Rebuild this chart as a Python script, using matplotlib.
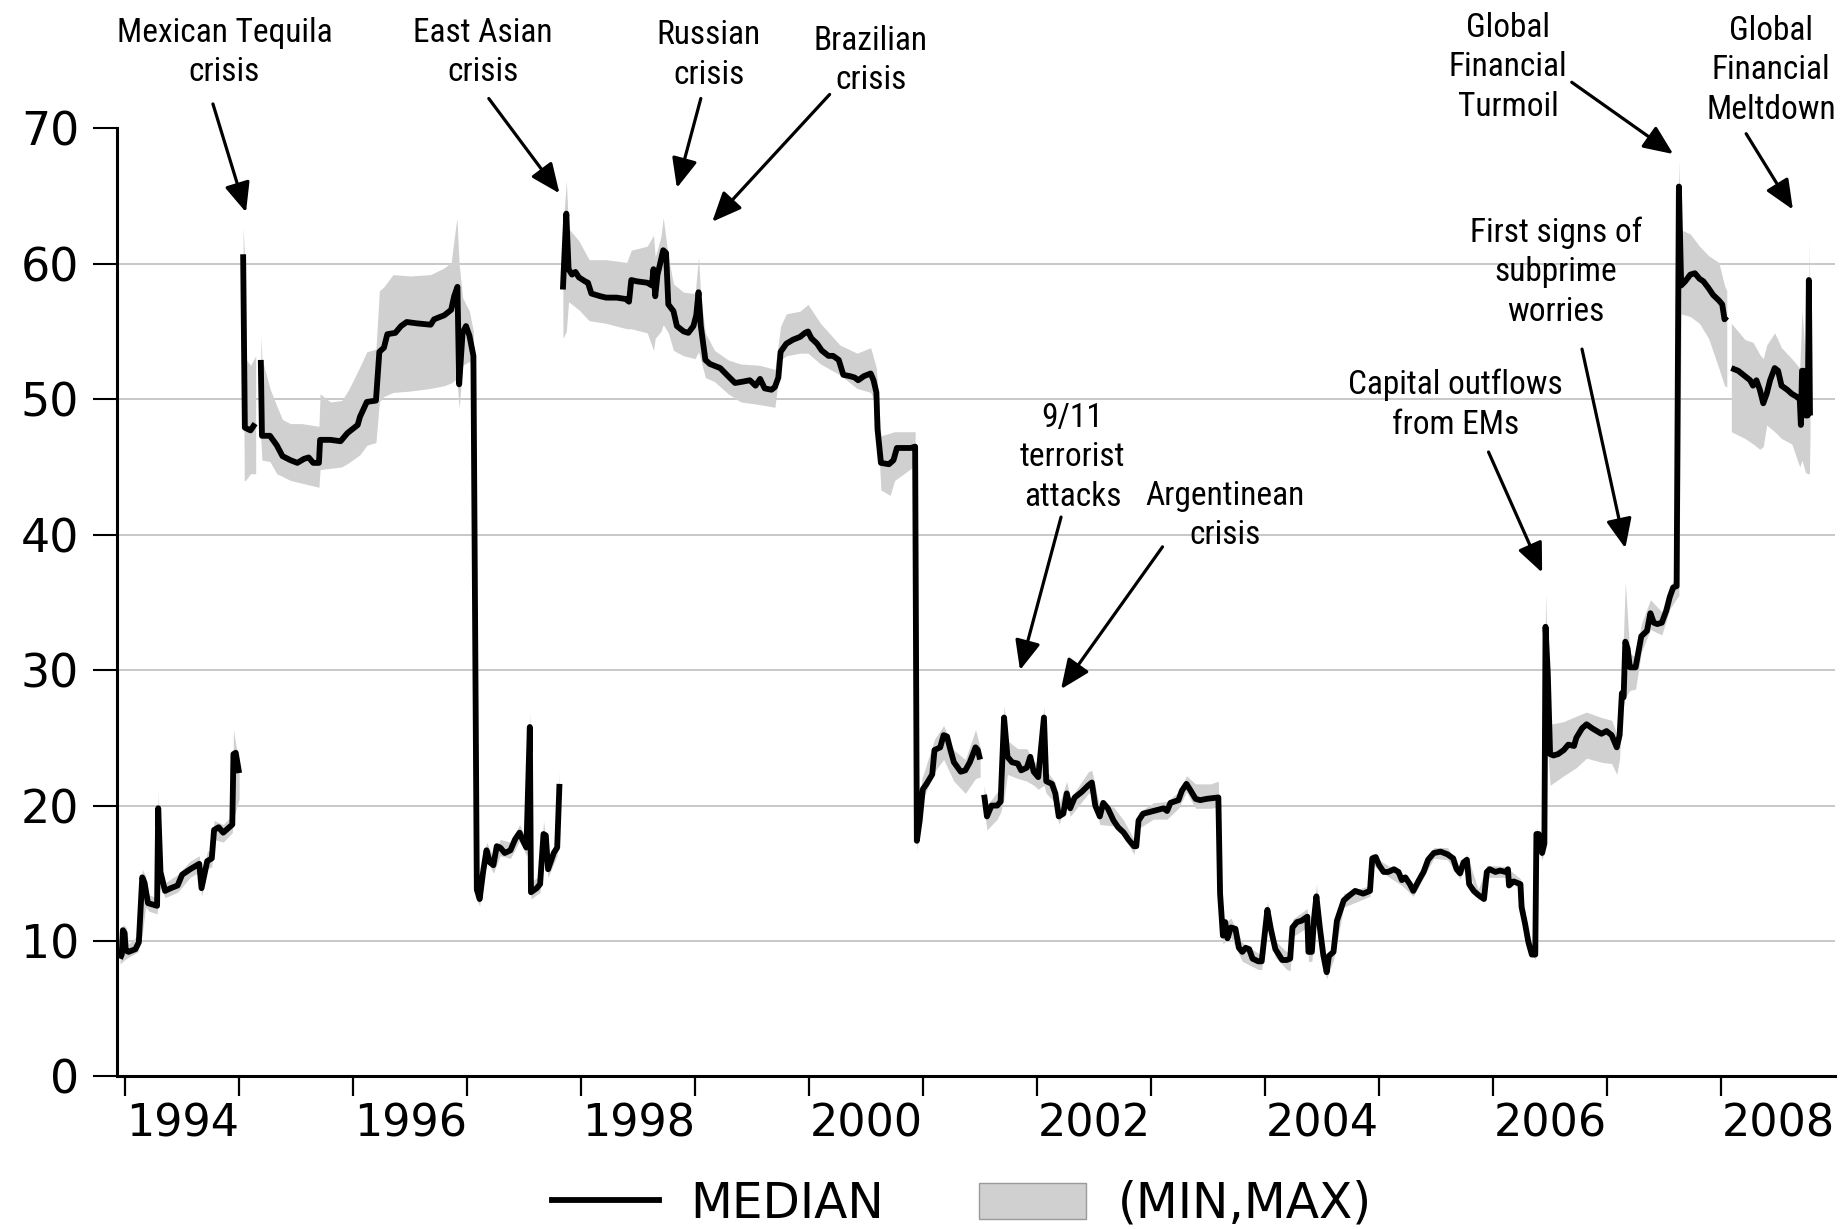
import numpy as np
import matplotlib
matplotlib.use("Agg")
import matplotlib.pyplot as plt
from matplotlib import font_manager
from matplotlib.font_manager import FontProperties
from matplotlib.lines import Line2D
from matplotlib.patches import Patch

# median, one block per unbroken run: [year, median]
med_a = [[1993.955, 8.7], [1993.97, 9.0], [1993.98, 10.8], [1993.995, 10.6], [1994.005, 9.3],
         [1994.03, 9.2], [1994.09, 9.4], [1994.12, 9.9], [1994.15, 14.7], [1994.17, 14.3],
         [1994.20, 12.8], [1994.24, 12.7], [1994.28, 12.6], [1994.29, 19.8], [1994.31, 15.1],
         [1994.35, 13.7], [1994.40, 13.9], [1994.46, 14.1], [1994.50, 14.9], [1994.57, 15.3],
         [1994.65, 15.7], [1994.67, 13.9], [1994.72, 15.9], [1994.76, 16.1], [1994.78, 18.2],
         [1994.82, 18.4], [1994.86, 18.0], [1994.94, 18.6], [1994.95, 23.8], [1994.97, 23.9],
         [1995.00, 22.4]]
med_b = [[1995.035, 60.7], [1995.05, 47.9], [1995.10, 47.7], [1995.14, 48.2]]
med_c = [[1995.19, 52.9], [1995.20, 47.3], [1995.27, 47.3], [1995.33, 46.6], [1995.38, 45.8],
         [1995.45, 45.5], [1995.51, 45.3], [1995.57, 45.6], [1995.61, 45.7], [1995.65, 45.3],
         [1995.70, 45.3], [1995.71, 47.0], [1995.80, 47.0], [1995.89, 46.9], [1995.95, 47.5],
         [1996.04, 48.1], [1996.06, 48.7], [1996.12, 49.8], [1996.20, 49.9], [1996.23, 53.5],
         [1996.27, 53.8], [1996.30, 54.8], [1996.37, 54.9], [1996.42, 55.4], [1996.47, 55.7],
         [1996.56, 55.6], [1996.68, 55.5], [1996.71, 55.9], [1996.80, 56.2], [1996.86, 56.6],
         [1996.886, 57.6], [1996.915, 58.3], [1996.93, 51.1], [1996.96, 54.9], [1996.99, 55.4],
         [1997.02, 54.7], [1997.055, 53.2], [1997.085, 13.8], [1997.11, 13.1], [1997.14, 15.1],
         [1997.17, 16.7], [1997.20, 15.8], [1997.23, 15.6], [1997.26, 17.0], [1997.29, 16.9],
         [1997.33, 16.5], [1997.38, 16.7], [1997.42, 17.5], [1997.46, 18.0], [1997.49, 17.4],
         [1997.52, 16.9], [1997.55, 25.8], [1997.56, 13.6], [1997.61, 13.9], [1997.64, 14.2],
         [1997.67, 17.9], [1997.69, 17.8], [1997.71, 15.3], [1997.76, 16.5], [1997.79, 16.9],
         [1997.81, 21.6]]
med_d = [[1997.84, 58.1], [1997.87, 63.7], [1997.89, 59.6], [1997.92, 59.2], [1997.95, 59.4],
         [1997.98, 59.0], [1998.035, 58.7], [1998.06, 58.6], [1998.09, 57.8], [1998.17, 57.6],
         [1998.22, 57.5], [1998.31, 57.5], [1998.39, 57.4], [1998.42, 57.2], [1998.44, 58.8],
         [1998.49, 58.7], [1998.58, 58.6], [1998.62, 58.4], [1998.635, 59.6], [1998.65, 57.6],
         [1998.67, 59.2], [1998.69, 59.9], [1998.72, 61.0], [1998.745, 60.8], [1998.765, 57.0],
         [1998.81, 56.5], [1998.84, 55.4], [1998.90, 55.0], [1998.94, 54.9], [1998.985, 55.4],
         [1999.01, 56.2], [1999.03, 57.9], [1999.05, 55.4], [1999.09, 52.9], [1999.13, 52.6],
         [1999.22, 52.3], [1999.29, 51.7], [1999.35, 51.2], [1999.42, 51.3], [1999.48, 51.4],
         [1999.53, 51.0], [1999.57, 51.5], [1999.61, 50.8], [1999.67, 50.7], [1999.70, 50.9],
         [1999.73, 51.6], [1999.75, 53.5], [1999.80, 54.1], [1999.86, 54.4], [1999.92, 54.6],
         [1999.965, 54.9], [1999.99, 55.0], [2000.02, 54.5], [2000.07, 54.1], [2000.11, 53.6],
         [2000.17, 53.2], [2000.21, 53.2], [2000.26, 52.9], [2000.30, 51.8], [2000.36, 51.7],
         [2000.40, 51.6], [2000.43, 51.4], [2000.48, 51.7], [2000.54, 51.9], [2000.565, 51.4],
         [2000.59, 50.5], [2000.60, 47.8], [2000.63, 45.3], [2000.70, 45.2], [2000.74, 45.5],
         [2000.77, 46.4], [2000.83, 46.4], [2000.89, 46.4], [2000.93, 46.5], [2000.945, 17.4],
         [2000.97, 18.9], [2000.997, 21.2], [2001.03, 21.6], [2001.08, 22.3], [2001.10, 24.1],
         [2001.15, 24.3], [2001.18, 25.2], [2001.21, 25.1], [2001.24, 24.1], [2001.27, 23.2],
         [2001.33, 22.5], [2001.37, 22.6], [2001.41, 23.2], [2001.46, 24.3], [2001.48, 24.1],
         [2001.50, 23.4]]
med_e = [[2001.535, 20.8], [2001.56, 19.2], [2001.60, 20.0], [2001.65, 20.0], [2001.68, 20.3],
         [2001.71, 26.5], [2001.74, 23.6], [2001.78, 23.2], [2001.83, 23.1], [2001.86, 22.6],
         [2001.91, 22.8], [2001.94, 23.6], [2001.97, 22.5], [2002.01, 22.1], [2002.06, 26.5],
         [2002.08, 21.8], [2002.13, 21.6], [2002.16, 20.9], [2002.19, 19.2], [2002.23, 19.4],
         [2002.26, 20.9], [2002.29, 19.8], [2002.33, 20.6], [2002.39, 21.0], [2002.45, 21.5],
         [2002.48, 21.7], [2002.51, 20.0], [2002.55, 19.2], [2002.58, 20.2], [2002.62, 19.8],
         [2002.67, 18.9], [2002.71, 18.4], [2002.76, 18.0], [2002.80, 17.5], [2002.85, 17.0],
         [2002.87, 17.0], [2002.89, 18.9], [2002.93, 19.4], [2003.02, 19.6], [2003.11, 19.8],
         [2003.14, 19.6], [2003.17, 20.2], [2003.24, 20.4], [2003.27, 21.1], [2003.31, 21.6],
         [2003.34, 21.2], [2003.39, 20.5], [2003.43, 20.4], [2003.49, 20.5], [2003.59, 20.6],
         [2003.605, 13.5], [2003.63, 10.4], [2003.65, 11.4], [2003.67, 10.2], [2003.70, 11.0],
         [2003.74, 10.9], [2003.77, 9.5], [2003.80, 9.2], [2003.83, 9.5], [2003.86, 9.4],
         [2003.89, 8.7], [2003.94, 8.5], [2003.97, 8.5], [2004.02, 12.3], [2004.05, 10.9],
         [2004.09, 9.4], [2004.12, 9.0], [2004.15, 8.6], [2004.19, 8.6], [2004.22, 8.7],
         [2004.24, 11.0], [2004.28, 11.4], [2004.32, 11.5], [2004.37, 11.8], [2004.38, 9.2],
         [2004.41, 9.2], [2004.43, 11.7], [2004.45, 13.3], [2004.48, 11.0], [2004.51, 9.0],
         [2004.54, 7.7], [2004.56, 8.9], [2004.60, 9.2], [2004.63, 11.5], [2004.69, 13.0],
         [2004.73, 13.3], [2004.79, 13.7], [2004.86, 13.5], [2004.92, 13.7], [2004.94, 16.1],
         [2004.97, 16.2], [2005.00, 15.6], [2005.04, 15.1], [2005.08, 15.1], [2005.13, 15.3],
         [2005.17, 15.1], [2005.20, 14.5], [2005.23, 14.7], [2005.27, 14.2], [2005.30, 13.7],
         [2005.35, 14.5], [2005.39, 15.1], [2005.43, 16.0], [2005.48, 16.5], [2005.54, 16.6],
         [2005.60, 16.4], [2005.65, 16.1], [2005.68, 15.3], [2005.71, 15.0], [2005.74, 15.8],
         [2005.77, 16.0], [2005.79, 14.2], [2005.83, 13.7], [2005.87, 13.4], [2005.92, 13.1],
         [2005.945, 15.1], [2005.97, 15.3], [2006.02, 15.1], [2006.06, 15.2], [2006.11, 15.1],
         [2006.13, 15.3], [2006.14, 14.1], [2006.18, 14.4], [2006.24, 14.2], [2006.25, 12.5],
         [2006.28, 11.3], [2006.31, 9.9], [2006.34, 9.0], [2006.37, 9.0], [2006.38, 17.9],
         [2006.40, 17.9], [2006.43, 16.5], [2006.45, 17.2], [2006.46, 33.2], [2006.48, 29.7],
         [2006.50, 23.8], [2006.53, 23.7], [2006.57, 23.8], [2006.62, 24.1], [2006.66, 24.5],
         [2006.71, 24.4], [2006.73, 25.0], [2006.78, 25.7], [2006.82, 26.0], [2006.87, 25.7],
         [2006.91, 25.5], [2006.95, 25.3], [2006.995, 25.5], [2007.04, 25.2], [2007.085, 24.3],
         [2007.11, 25.2], [2007.13, 28.3], [2007.145, 28.0], [2007.16, 32.1], [2007.18, 31.6],
         [2007.20, 30.2], [2007.25, 30.2], [2007.28, 31.6], [2007.30, 32.5], [2007.35, 32.9],
         [2007.38, 34.2], [2007.41, 33.5], [2007.44, 33.4], [2007.48, 33.5], [2007.52, 34.4],
         [2007.55, 35.4], [2007.58, 36.1], [2007.61, 36.2], [2007.63, 65.7], [2007.65, 58.4],
         [2007.685, 58.7], [2007.73, 59.2], [2007.77, 59.3], [2007.81, 58.9], [2007.845, 58.7],
         [2007.89, 58.2], [2007.93, 57.7], [2007.98, 57.3], [2008.01, 57.0], [2008.03, 55.9],
         [2008.05, 56.1]]
med_f = [[2008.09, 52.3], [2008.15, 52.1], [2008.21, 51.7], [2008.255, 51.4], [2008.28, 51.0],
         [2008.31, 51.4], [2008.34, 50.7], [2008.37, 49.7], [2008.40, 50.4], [2008.43, 51.4],
         [2008.47, 52.3], [2008.50, 52.1], [2008.53, 51.0], [2008.58, 50.7], [2008.62, 50.4],
         [2008.66, 50.2], [2008.69, 50.0], [2008.70, 48.1], [2008.71, 52.1], [2008.725, 52.1],
         [2008.74, 48.8], [2008.76, 48.8], [2008.77, 58.8], [2008.78, 48.8]]

# (min, max) envelope per run: [year, min, max]
env_a = [[1993.955, 8.3, 9.3], [1993.98, 8.5, 11.2], [1994.01, 8.7, 11.0], [1994.03, 8.8, 9.8],
         [1994.11, 9.2, 10.4], [1994.15, 10.5, 15.3], [1994.18, 12.5, 14.8], [1994.21, 12.2, 13.4],
         [1994.28, 12.0, 13.2], [1994.29, 13.0, 21.1], [1994.31, 14.0, 15.8], [1994.35, 13.2, 14.3],
         [1994.46, 13.6, 14.9], [1994.57, 14.7, 15.9], [1994.65, 15.1, 16.3], [1994.67, 13.3, 14.6],
         [1994.72, 15.3, 16.6], [1994.76, 15.5, 16.8], [1994.78, 17.5, 18.9], [1994.86, 17.3, 18.6],
         [1994.94, 18.0, 19.3], [1994.95, 19.0, 25.6], [1995.00, 20.5, 23.0]]
env_b = [[1995.035, 58.0, 62.7], [1995.045, 44.0, 61.0], [1995.055, 44.0, 53.0],
         [1995.10, 44.5, 52.5], [1995.145, 44.5, 53.2]]
env_c = [[1995.19, 47.0, 54.7], [1995.20, 45.5, 53.0], [1995.27, 45.4, 50.8], [1995.33, 44.5, 49.5],
         [1995.38, 44.3, 48.5], [1995.45, 44.0, 48.2], [1995.55, 43.8, 48.2], [1995.70, 43.5, 48.0],
         [1995.71, 44.8, 50.4], [1995.80, 44.9, 49.8], [1995.90, 45.0, 49.9], [1995.96, 45.3, 50.7],
         [1996.06, 45.9, 52.4], [1996.12, 46.6, 53.5], [1996.20, 46.8, 53.7], [1996.23, 49.8, 58.0],
         [1996.27, 50.2, 58.3], [1996.35, 50.5, 59.2], [1996.50, 50.6, 59.1], [1996.68, 50.8, 59.2],
         [1996.80, 51.0, 59.7], [1996.86, 51.2, 60.1], [1996.91, 51.5, 63.4], [1996.93, 49.3, 60.0],
         [1996.96, 52.5, 57.5], [1997.02, 52.8, 56.5], [1997.055, 52.0, 55.0], [1997.085, 13.0, 14.5],
         [1997.11, 12.6, 13.7], [1997.14, 14.5, 15.6], [1997.17, 16.1, 17.3], [1997.23, 15.0, 16.2],
         [1997.29, 16.3, 17.5], [1997.38, 16.1, 17.3], [1997.46, 17.4, 18.6], [1997.52, 16.3, 17.5],
         [1997.55, 17.0, 27.0], [1997.56, 13.1, 14.4], [1997.64, 13.6, 14.8], [1997.67, 17.2, 18.9],
         [1997.71, 14.7, 15.9], [1997.79, 16.3, 17.5], [1997.81, 20.8, 22.5]]
env_d = [[1997.84, 54.5, 62.6], [1997.87, 55.0, 66.1], [1997.89, 57.2, 62.6], [1997.98, 56.6, 61.7],
         [1998.07, 55.8, 60.3], [1998.22, 55.6, 60.3], [1998.40, 55.2, 60.1], [1998.44, 55.2, 61.0],
         [1998.58, 54.9, 61.3], [1998.635, 53.6, 62.1], [1998.65, 54.5, 60.5], [1998.70, 55.0, 62.0],
         [1998.72, 55.5, 63.4], [1998.765, 54.9, 60.5], [1998.81, 53.6, 58.5], [1998.90, 53.2, 57.9],
         [1999.00, 53.0, 57.8], [1999.03, 53.5, 60.5], [1999.05, 52.9, 57.5], [1999.09, 51.6, 54.9],
         [1999.17, 51.3, 53.6], [1999.29, 50.4, 52.9], [1999.40, 49.8, 52.6], [1999.57, 49.6, 52.5],
         [1999.70, 49.4, 52.2], [1999.75, 52.9, 55.4], [1999.80, 53.2, 56.3], [1999.92, 53.4, 56.5],
         [1999.99, 53.4, 57.0], [2000.10, 52.6, 55.6], [2000.27, 51.8, 54.0], [2000.42, 50.8, 53.4],
         [2000.54, 50.5, 53.8], [2000.59, 49.5, 52.3], [2000.63, 43.3, 47.3], [2000.71, 42.9, 47.5],
         [2000.75, 44.0, 47.6], [2000.93, 45.1, 47.6], [2000.945, 16.7, 18.5], [2000.99, 20.3, 22.0],
         [2001.10, 22.5, 24.9], [2001.18, 23.4, 25.9], [2001.27, 21.8, 24.1], [2001.37, 20.9, 23.4],
         [2001.46, 22.0, 25.6], [2001.50, 22.1, 24.3]]
env_e = [[2001.535, 19.8, 21.5], [2001.56, 18.2, 20.0], [2001.65, 19.0, 21.0], [2001.68, 19.5, 21.2],
         [2001.71, 20.5, 27.4], [2001.74, 22.3, 24.8], [2001.83, 22.0, 24.2], [2001.91, 21.8, 24.2],
         [2001.97, 21.5, 23.3], [2002.01, 21.2, 23.0], [2002.06, 21.5, 27.3], [2002.08, 20.9, 22.6],
         [2002.16, 20.2, 21.7], [2002.19, 18.6, 20.0], [2002.26, 20.2, 21.8], [2002.29, 19.2, 20.5],
         [2002.45, 20.9, 22.5], [2002.48, 21.0, 22.6], [2002.55, 18.6, 19.9], [2002.67, 18.5, 19.9],
         [2002.76, 17.7, 18.9], [2002.85, 16.4, 17.5], [2002.89, 18.3, 19.5], [2003.02, 19.0, 20.2],
         [2003.14, 19.0, 20.3], [2003.24, 19.8, 21.0], [2003.31, 21.0, 22.2], [2003.39, 19.8, 21.6],
         [2003.52, 19.8, 21.6], [2003.59, 19.9, 21.8], [2003.605, 12.5, 14.0], [2003.63, 9.8, 11.2],
         [2003.70, 10.3, 11.7], [2003.80, 8.5, 9.9], [2003.94, 7.9, 9.1], [2003.97, 7.9, 9.0],
         [2004.02, 11.5, 12.9], [2004.09, 8.8, 10.0], [2004.19, 7.9, 9.2], [2004.22, 7.8, 9.3],
         [2004.24, 10.3, 11.6], [2004.37, 11.0, 12.4], [2004.38, 8.5, 9.8], [2004.41, 8.5, 9.8],
         [2004.45, 12.3, 14.2], [2004.51, 8.3, 9.6], [2004.54, 7.2, 8.2], [2004.60, 8.6, 9.8],
         [2004.69, 12.5, 13.5], [2004.92, 13.3, 14.1], [2004.94, 15.7, 16.5], [2005.00, 15.2, 16.0],
         [2005.20, 14.1, 14.9], [2005.30, 13.3, 14.1], [2005.48, 16.1, 16.9], [2005.60, 16.0, 16.9],
         [2005.71, 14.6, 15.4], [2005.77, 15.6, 16.4], [2005.87, 13.0, 13.8], [2005.945, 14.7, 15.6],
         [2006.11, 14.7, 15.5], [2006.24, 13.8, 14.6], [2006.31, 9.5, 10.3], [2006.37, 8.6, 9.4],
         [2006.38, 17.3, 18.4], [2006.43, 16.0, 17.0], [2006.45, 16.7, 17.8], [2006.46, 25.0, 35.6],
         [2006.48, 24.0, 31.0], [2006.50, 21.5, 26.0], [2006.62, 22.2, 26.2], [2006.73, 22.8, 26.6],
         [2006.82, 23.5, 26.9], [2006.95, 23.2, 26.5], [2007.04, 23.1, 26.3], [2007.085, 22.3, 25.3],
         [2007.11, 23.5, 26.0], [2007.13, 26.8, 29.2], [2007.16, 28.0, 36.5], [2007.20, 28.5, 31.2],
         [2007.25, 28.6, 31.0], [2007.30, 31.3, 33.4], [2007.38, 33.0, 35.2], [2007.48, 32.6, 34.3],
         [2007.55, 34.5, 36.2], [2007.61, 35.3, 36.9], [2007.63, 35.5, 67.6], [2007.65, 56.3, 62.5],
         [2007.73, 56.1, 62.2], [2007.81, 55.6, 61.3], [2007.89, 54.5, 60.6], [2007.98, 52.3, 60.1],
         [2008.03, 51.0, 58.4], [2008.05, 50.9, 58.0]]
env_f = [[2008.09, 47.6, 55.6], [2008.21, 47.1, 54.4], [2008.28, 46.7, 54.2], [2008.34, 46.3, 53.3],
         [2008.37, 46.5, 53.0], [2008.40, 48.1, 54.0], [2008.47, 47.6, 54.9], [2008.53, 47.1, 53.8],
         [2008.62, 46.7, 53.0], [2008.69, 45.0, 52.3], [2008.71, 45.5, 56.6], [2008.74, 44.6, 53.0],
         [2008.76, 44.5, 52.5], [2008.775, 44.5, 61.7], [2008.78, 47.0, 50.5]]

median_runs = [med_a, med_b, med_c, med_d, med_e, med_f]
envelope_runs = [env_a, env_b, env_c, env_d, env_e, env_f]

year_ticks = list(range(1994, 2009))
label_years = list(range(1994, 2009, 2))
y_ticks = list(range(0, 71, 10))

# event notes: text, text centre, arrow tail, arrow head (year, value)
events = [
    ("Mexican Tequila\ncrisis", (1994.87, 75.6), (1994.77, 71.8), (1995.06, 63.8)),
    ("East Asian\ncrisis", (1997.14, 75.6), (1997.19, 72.2), (1997.81, 65.2)),
    ("Russian\ncrisis", (1999.12, 75.4), (1999.05, 72.2), (1998.84, 65.6)),
    ("Brazilian\ncrisis", (2000.54, 75.0), (2000.18, 72.5), (1999.15, 63.1)),
    ("9/11\nterrorist\nattacks", (2002.31, 45.7), (2002.21, 41.3), (2001.85, 30.0)),
    ("Argentinean\ncrisis", (2003.65, 41.4), (2003.10, 39.1), (2002.21, 28.6)),
    ("Capital outflows\nfrom EMs", (2005.67, 49.6), (2005.96, 46.1), (2006.43, 37.2)),
    ("First signs of\nsubprime\nworries", (2006.55, 59.4), (2006.78, 53.7), (2007.16, 39.0)),
    ("Global\nFinancial\nTurmoil", (2006.13, 74.5), (2006.69, 73.4), (2007.58, 68.1)),
    ("Global\nFinancial\nMeltdown", (2008.44, 74.3), (2008.22, 69.6), (2008.63, 64.0)),
]


def narrow_font():
    # a condensed sans face for the event notes, if one is installed
    wanted = ("Liberation Sans Narrow", "Roboto Condensed", "Noto Sans Condensed",
              "Open Sans Condensed", "DejaVu Sans Condensed")
    entries = font_manager.fontManager.ttflist
    for name in wanted:
        for f in entries:
            if f.name == name and f.style == "normal" and f.weight in (400, "normal", "regular"):
                return f.fname
    for f in entries:
        if (str(f.stretch) in ("condensed", "semi-condensed", "narrow")
                and f.style == "normal" and f.weight in (400, "normal", "regular")
                and "Mono" not in f.name and "CJK" not in f.name):
            return f.fname
    return None


note_file = narrow_font()
if note_file:
    note_prop = FontProperties(fname=note_file, size=24)
    note_spacing = 1.3
else:
    note_prop = FontProperties(family="Liberation Sans", size=21)
    note_spacing = 1.55

BAND = "#d0d0d0"
GRID = "#c8c8c8"

fig = plt.figure(figsize=(18.43, 12.29), dpi=100)
ax = fig.add_axes([0.0637, 0.1241, 0.9320, 0.7715])

for run in envelope_runs:
    b = np.array(run, dtype=float)
    ax.fill_between(b[:, 0], b[:, 1], b[:, 2], color=BAND, lw=0, zorder=2)
for run in median_runs:
    m = np.array(run, dtype=float)
    ax.plot(m[:, 0], m[:, 1], color="black", lw=4.2, solid_joinstyle="round",
            solid_capstyle="butt", zorder=3)

ax.set_xlim(1993.932, 2009.0)
ax.set_ylim(0, 70)

ax.set_xticks(year_ticks)
ax.set_xticklabels([])
ax.set_xticks([y + 0.5 for y in label_years], [str(y) for y in label_years], minor=True)
ax.tick_params(axis="x", which="major", direction="out", length=14.5, width=1.6)
ax.tick_params(axis="x", which="minor", length=0, pad=19)
ax.set_yticks(y_ticks)
ax.tick_params(axis="y", direction="out", length=17.5, width=1.5, pad=10)
for lab in ax.get_xticklabels(minor=True):
    lab.set_fontfamily("DejaVu Sans")
    lab.set_fontsize(32)
for lab in ax.get_yticklabels():
    lab.set_fontfamily("DejaVu Sans")
    lab.set_fontsize(33)

ax.grid(axis="y", color=GRID, lw=1.4, zorder=1)
ax.set_axisbelow(True)
ax.yaxis.get_gridlines()[-1].set_visible(False)

for side in ("top", "right"):
    ax.spines[side].set_visible(False)
for side in ("left", "bottom"):
    ax.spines[side].set_linewidth(2.2)

arrow = dict(arrowstyle="-|>,head_length=0.6,head_width=0.26", color="black",
             lw=2.3, shrinkA=0, shrinkB=0, mutation_scale=30)
for text, pos, tail, head in events:
    ax.text(pos[0], pos[1], text, ha="center", va="center", fontproperties=note_prop,
            linespacing=note_spacing, clip_on=False)
    ax.annotate("", xy=head, xytext=tail, arrowprops=arrow, annotation_clip=False)

handles = [Line2D([], [], color="black", lw=4.2),
           Patch(facecolor=BAND, edgecolor="#9a9a9a", lw=1.0)]
fig.legend(handles, ["MEDIAN", "(MIN,MAX)"], loc="center left",
           bbox_to_anchor=(0.2995, 0.0205), ncol=2, frameon=False,
           prop={"family": "DejaVu Sans", "size": 35}, handlelength=2.2,
           handleheight=0.75, handletextpad=0.65, columnspacing=1.95,
           borderpad=0, borderaxespad=0)

fig.savefig("out.png", dpi=100)
